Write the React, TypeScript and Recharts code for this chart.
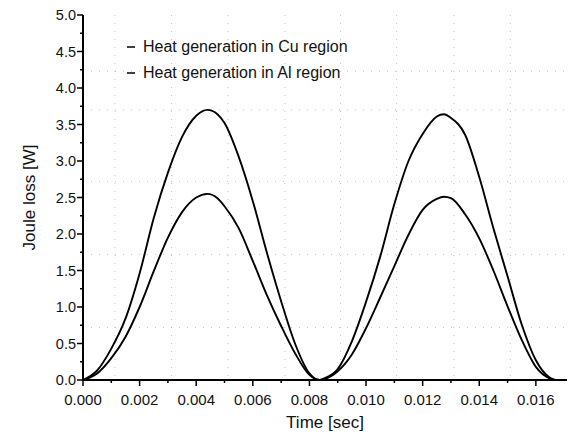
import { CartesianGrid, Legend, Line, LineChart, XAxis, YAxis } from "recharts";

// time samples over one full cycle (sec)
const time = [
  0, 0.0005, 0.001, 0.0015, 0.002, 0.0025, 0.003, 0.0035, 0.004, 0.0044, 0.00475, 0.005, 0.0055, 0.006, 0.0065,
  0.007, 0.0075, 0.008, 0.00835, 0.0085, 0.009, 0.0095, 0.01, 0.0105, 0.011, 0.0115, 0.012, 0.0125, 0.01275,
  0.013, 0.0135, 0.014, 0.0145, 0.015, 0.0155, 0.016, 0.0165, 0.01668,
];

// joule loss (W)
const cuLoss = [
  0, 0.13, 0.43, 0.84, 1.46, 2.22, 2.84, 3.33, 3.62, 3.7, 3.64, 3.52, 3.06, 2.45, 1.74, 1.08, 0.49, 0.09, 0, 0.02,
  0.15, 0.53, 1.07, 1.69, 2.41, 3.0, 3.37, 3.61, 3.64, 3.59, 3.36, 2.78, 2.08, 1.42, 0.76, 0.27, 0.03, 0,
];
const alLoss = [
  0, 0.09, 0.3, 0.59, 1.0, 1.49, 1.95, 2.3, 2.5, 2.55, 2.49, 2.38, 2.08, 1.63, 1.16, 0.74, 0.36, 0.07, 0, 0.01,
  0.12, 0.35, 0.71, 1.13, 1.56, 1.99, 2.33, 2.48, 2.51, 2.49, 2.27, 1.94, 1.5, 1.01, 0.55, 0.18, 0.02, 0,
];

const seriesNames = ["Heat generation in Cu region", "Heat generation in Al region"];

// major + minor ticks, labels only on even index
const xTicks = [
  0, 0.001, 0.002, 0.003, 0.004, 0.005, 0.006, 0.007, 0.008, 0.009, 0.01, 0.011, 0.012, 0.013, 0.014, 0.015, 0.016,
];
const yTicks = [
  0, 0.25, 0.5, 0.75, 1, 1.25, 1.5, 1.75, 2, 2.25, 2.5, 2.75, 3, 3.25, 3.5, 3.75, 4, 4.25, 4.5, 4.75, 5,
];

// faint scanned grid, slightly off the ticks
const gridX = [0.00113, 0.00313, 0.00513, 0.00713, 0.0091, 0.01108, 0.0131, 0.0151];
const gridY = [0.72, 1.72, 2.72, 3.7, 4.23];

const font = "'Liberation Sans', Arial, sans-serif";

function XTick(props: any) {
  const { x, y, index, payload } = props;
  const major = index % 2 === 0;
  return (
    <g>
      <line x1={x} x2={x} y1={y} y2={y + (major ? 6 : 3)} stroke="#000" strokeWidth={1.5} />
      {major && (
        <text x={x} y={y + 25} textAnchor="middle" fontSize={15} fontFamily={font} fill="#111">
          {payload.value.toFixed(3)}
        </text>
      )}
    </g>
  );
}

function YTick(props: any) {
  const { x, y, index, payload } = props;
  const major = index % 2 === 0;
  return (
    <g>
      <line x1={x} x2={x - (major ? 6 : 3)} y1={y} y2={y} stroke="#000" strokeWidth={1.5} />
      {major && (
        <text x={x - 7} y={y} dy="0.35em" textAnchor="end" fontSize={14.5} fontFamily={font} fill="#111">
          {payload.value.toFixed(1)}
        </text>
      )}
    </g>
  );
}

function LegendBox() {
  return (
    <div style={{ fontFamily: font, fontSize: 16, color: "#111", lineHeight: "26px" }}>
      {seriesNames.map((name) => (
        <div key={name} style={{ display: "flex", alignItems: "center" }}>
          <svg width={18} height={10}>
            <line x1={2} x2={10} y1={5} y2={5} stroke="#000" strokeWidth={1.5} />
          </svg>
          <span>{name}</span>
        </div>
      ))}
    </div>
  );
}

export default function App() {
  const data = time.map((t, i) => ({ t, cu: cuLoss[i], al: alLoss[i] }));

  return (
    <div style={{ position: "absolute", left: 0, top: 0, background: "#fff" }}>
      <LineChart width={569} height={439} data={data} margin={{ top: 15, right: 2, bottom: 14, left: 8 }}>
        <CartesianGrid
          horizontalValues={gridY}
          verticalValues={gridX}
          stroke="#a0a0a0"
          strokeDasharray="1 7"
          strokeOpacity={0.6}
        />
        <XAxis
          dataKey="t"
          type="number"
          domain={[0, 0.0171]}
          ticks={xTicks}
          interval={0}
          height={45}
          tickSize={0}
          tickMargin={0}
          tickLine={false}
          tick={<XTick />}
          axisLine={{ stroke: "#000", strokeWidth: 2 }}
          label={{
            value: "Time [sec]",
            position: "insideBottom",
            offset: -3,
            style: { fontFamily: font, fontSize: 17, fill: "#111" },
          }}
        />
        <XAxis xAxisId="top" orientation="top" type="number" domain={[0, 0.0171]} height={0} tick={false} tickLine={false} axisLine={{ stroke: "#000", strokeWidth: 2 }} />
        <YAxis
          type="number"
          domain={[0, 5]}
          ticks={yTicks}
          interval={0}
          width={75}
          tickSize={0}
          tickMargin={0}
          tickLine={false}
          tick={<YTick />}
          axisLine={{ stroke: "#000", strokeWidth: 2 }}
          label={{
            value: "Joule loss [W]",
            angle: -90,
            position: "insideLeft",
            offset: 21,
            style: { fontFamily: font, fontSize: 17, fill: "#111", textAnchor: "middle" },
          }}
        />
        <YAxis yAxisId="right" orientation="right" type="number" domain={[0, 5]} width={0} tick={false} tickLine={false} axisLine={{ stroke: "#000", strokeWidth: 2 }} />
        <Legend
          layout="vertical"
          align="center"
          verticalAlign="middle"
          content={<LegendBox />}
          wrapperStyle={{ left: 125, top: 34, width: "auto", height: "auto" }}
        />
        <Line type="monotone" dataKey="cu" name={seriesNames[0]} stroke="#000" strokeWidth={1.9} dot={false} isAnimationActive={false} />
        <Line type="monotone" dataKey="al" name={seriesNames[1]} stroke="#000" strokeWidth={1.9} dot={false} isAnimationActive={false} />
      </LineChart>
    </div>
  );
}
